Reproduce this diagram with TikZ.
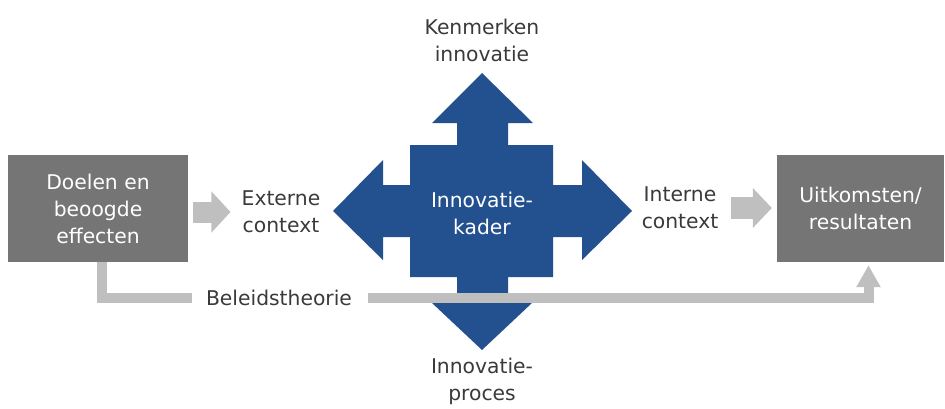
\documentclass[tikz,border=0pt]{standalone}
\usepackage{fontspec}
\setmainfont{DejaVu Sans}
\usetikzlibrary{arrows.meta,positioning}
\definecolor{kaderblauw}{RGB}{35,80,143}
\definecolor{vakgrijs}{RGB}{117,117,117}
\definecolor{pijlgrijs}{RGB}{191,191,191}
\definecolor{tekstgrijs}{RGB}{58,58,58}
\begin{document}
\begin{tikzpicture}[x=1pt,y=-1pt,font=\fontsize{20.3}{27}\selectfont,
	vak/.style={fill=vakgrijs,text=white,align=center,inner sep=0pt},
	tekst/.style={text=tekstgrijs,align=center,inner sep=1pt},
	blokpijl/.style={draw=pijlgrijs,line width=21pt,-{Triangle[length=19pt,width=40pt]}},
	theorie/.style={draw=pijlgrijs,line width=10pt}]
	\useasboundingbox (0,0) rectangle (945,408);
	\node[vak,minimum width=180pt,minimum height=107pt] (doelen) at (98,208.5) {Doelen en\\beoogde\\effecten};
	\node[vak,minimum width=167pt,minimum height=107pt] (uitkomsten) at (860.5,208.5) {Uitkomsten/\\resultaten};
	\node[tekst] (extern) at (281,212) {Externe\\context};
	\node[tekst] (intern) at (680,208) {Interne\\context};
	\node[tekst] (kenmerken) at (482,40) {Kenmerken\\innovatie};
	\node[tekst] (proces) at (482,381) {Innovatie-\\proces};
	% kruis met vier pijlen
	\coordinate (kader) at (482,211);
	\fill[kaderblauw,shift={(kader)}] (0,-138)--(51,-88)--(26,-88)--(26,-66)--(71,-66)--(71,-26)--(100,-26)--(100,-51)--(150,0)--(100,49)--(100,26)--(71,26)--(71,66)--(26,66)--(26,92)--(50,92)--(0,139)--(-50,92)--(-25,92)--(-25,66)--(-72,66)--(-72,26)--(-99,26)--(-99,49)--(-149,0)--(-99,-51)--(-99,-26)--(-72,-26)--(-72,-66)--(-25,-66)--(-25,-88)--(-50,-88)--cycle;
	\node[text=white,align=center] (kadertekst) at ([yshift=-2pt]kader) {Innovatie-\\kader};
	\draw[blokpijl,shorten <=5pt,shorten >=10pt] (doelen.east |- extern.west) -- (extern.west);
	\draw[blokpijl,line width=22pt,-{Triangle[length=19pt,width=39pt]},shorten <=12pt,shorten >=5pt] (intern.east) -- (uitkomsten.west |- intern.east);
	\node[tekst,inner sep=0pt] (beleid) at (279,298) {Beleidstheorie};
	\draw[theorie] ([xshift=4pt]doelen.south) |- ([xshift=-14pt]beleid.west);
	\draw[theorie,-{Triangle[length=22pt,width=23pt]}] ([xshift=16pt]beleid.east) -| ([xshift=8pt,yshift=-3pt]uitkomsten.south);
\end{tikzpicture}
\end{document}
